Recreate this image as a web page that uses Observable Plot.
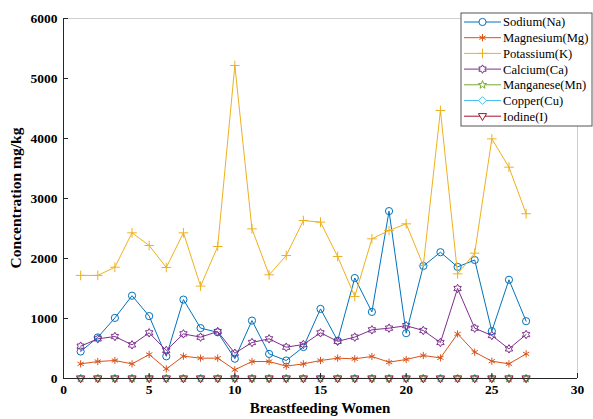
<!DOCTYPE html>
<html>
<head>
<meta charset="utf-8">
<script src="https://cdn.jsdelivr.net/npm/d3@7"></script>
<script src="https://cdn.jsdelivr.net/npm/@observablehq/plot@0.6"></script>
<style>
  html, body { margin: 0; padding: 0; background: #fff; }
  #chart { position: relative; width: 593px; height: 419px; }
  #chart svg, #chart svg text { font-family: 'Liberation Serif', 'Times New Roman', 'DejaVu Serif', serif !important; }
</style>
</head>
<body>
<div id="chart"></div>
<script>
const women = [1,2,3,4,5,6,7,8,9,10,11,12,13,14,15,16,17,18,19,20,21,22,23,24,25,26,27];
const sodium    = [450,685,1010,1380,1040,370,1315,840,770,330,965,410,300,525,1160,630,1675,1110,2790,755,1875,2105,1860,1975,790,1645,955];
const magnesium = [244,283,300,244,400,160,372,339,339,145,283,283,206,244,300,339,328,367,272,317,383,344,744,439,289,244,411];
const potassium = [1718,1718,1855,2428,2217,1850,2428,1540,2200,5217,2494,1728,2050,2633,2606,2033,1367,2328,2467,2578,1883,4467,1744,2089,3994,3522,2746];
const calcium   = [539,661,700,561,761,467,744,689,783,422,600,661,522,567,761,620,690,811,839,880,800,600,1500,839,717,494,733];
const manganese = [0.4,0.3,0.5,0.4,0.3,0.2,0.4,0.3,0.5,0.3,0.4,0.3,0.2,0.4,0.5,0.3,0.4,0.3,0.4,0.5,0.3,0.4,0.6,0.3,0.4,0.3,0.4];
const copper    = [0.6,0.5,0.7,0.5,0.6,0.4,0.6,0.5,0.6,0.4,0.5,0.6,0.4,0.5,0.6,0.5,0.7,0.5,0.6,0.5,0.6,0.5,0.8,0.6,0.5,0.4,0.6];
const iodine    = [0.2,0.3,0.2,0.2,0.3,0.1,0.2,0.3,0.2,0.1,0.2,0.2,0.1,0.2,0.3,0.2,0.2,0.3,0.2,0.2,0.3,0.2,0.4,0.2,0.2,0.1,0.2];
const seriesNames = ["Sodium(Na)","Magnesium(Mg)","Potassium(K)","Calcium(Ca)","Manganese(Mn)","Copper(Cu)","Iodine(I)"];
const seriesValues = [sodium, magnesium, potassium, calcium, manganese, copper, iodine];
const xTicks = [0,5,10,15,20,25,30];
const yTicks = [0,1000,2000,3000,4000,5000,6000];

const colors = ["#0072BD","#D95319","#EDB120","#7E2F8E","#77AC30","#4DBEEE","#A2142F"];

function starPath(points, innerRatio) {
  return {
    draw(ctx, size) {
      const R = Math.sqrt(size / Math.PI) * 1.25;
      const r = R * innerRatio;
      for (let i = 0; i < points * 2; i++) {
        const rr = i % 2 === 0 ? R : r;
        const a = i * Math.PI / points;
        const x = rr * Math.sin(a), y = -rr * Math.cos(a);
        if (i === 0) ctx.moveTo(x, y); else ctx.lineTo(x, y);
      }
      ctx.closePath();
    }
  };
}
const hexagram = starPath(6, 0.58);
const pentagram = starPath(5, 0.40);
const triDown = {
  draw(ctx, size) {
    const R = Math.sqrt(size / Math.PI) * 1.2;
    ctx.moveTo(0, R);
    ctx.lineTo(-R * 0.95, -R * 0.6);
    ctx.lineTo(R * 0.95, -R * 0.6);
    ctx.closePath();
  }
};
const diamondSq = {
  draw(ctx, size) {
    const R = Math.sqrt(size / Math.PI) * 1.2;
    ctx.moveTo(0, -R); ctx.lineTo(R, 0); ctx.lineTo(0, R); ctx.lineTo(-R, 0); ctx.closePath();
  }
};
const symbols = ["circle", "asterisk", "plus", hexagram, pentagram, diamondSq, triDown];
const radii = [3.6, 3.4, 3.2, 3.4, 3.4, 3.2, 3.6];

const rows = seriesNames.flatMap((name, s) =>
  women.map((w, i) => ({ series: name, idx: s, woman: w, value: seriesValues[s][i] })));

const marks = [
  Plot.ruleY([6000], { stroke: "#d0d0d0", strokeWidth: 1 }),
  Plot.ruleX([30], { stroke: "#d0d0d0", strokeWidth: 1 }),
];
seriesNames.forEach((name, s) => {
  const d = rows.filter(r => r.idx === s);
  marks.push(Plot.line(d, { x: "woman", y: "value", stroke: colors[s], strokeWidth: 1 }));
  marks.push(Plot.dot(d, { x: "woman", y: "value", stroke: colors[s], fill: "none", symbol: () => symbols[s], r: radii[s], strokeWidth: 1 }));
});
marks.push(
  Plot.ruleX([0], { stroke: "#262626", strokeWidth: 1 }),
  Plot.ruleY([0], { stroke: "#262626", strokeWidth: 1 }),
  Plot.axisY({ ticks: yTicks, tickSize: 0, tickPadding: 6, tickFormat: d => String(d), fontSize: 13.5, fontWeight: "bold", fill: "#000", label: null }),
  Plot.axisY({ ticks: yTicks, tickSize: -5, text: null, stroke: "#262626", label: null }),
  Plot.axisX({ ticks: xTicks, tickSize: 0, tickPadding: 6, tickFormat: d => String(d), fontSize: 13.5, fontWeight: "bold", fill: "#000", label: null }),
  Plot.axisX({ ticks: xTicks, tickSize: -5, text: null, stroke: "#262626", label: null })
);

const plot = Plot.plot({
  width: 593,
  height: 419,
  marginLeft: 63,
  marginRight: 16,
  marginTop: 18,
  marginBottom: 41,
  x: { domain: [0, 30] },
  y: { domain: [0, 6000] },
  style: { background: "#fff", overflow: "visible" },
  marks
});

const svg = d3.select(plot);
svg.append("text")
  .attr("x", 320).attr("y", 413)
  .attr("text-anchor", "middle")
  .attr("font-size", 15).attr("font-weight", "bold")
  .attr("fill", "#000")
  .text("Breastfeeding Women");
svg.append("text")
  .attr("transform", "translate(21,198) rotate(-90)")
  .attr("text-anchor", "middle")
  .attr("font-size", 15.5).attr("font-weight", "bold")
  .attr("fill", "#000")
  .text("Concentration mg/kg");

const lg = svg.append("g").attr("transform", "translate(461,13)");
lg.append("rect").attr("width", 131).attr("height", 113)
  .attr("fill", "#fff").attr("stroke", "#555").attr("stroke-width", 1);
seriesNames.forEach((name, s) => {
  const y = 9 + s * 15.7;
  lg.append("line").attr("x1", 3).attr("x2", 40).attr("y1", y).attr("y2", y)
    .attr("stroke", colors[s]).attr("stroke-width", 1);
  const t = typeof symbols[s] === "string"
    ? { circle: d3.symbolCircle, asterisk: d3.symbolAsterisk, plus: d3.symbolPlus }[symbols[s]]
    : symbols[s];
  lg.append("path").attr("transform", `translate(21.5,${y})`)
    .attr("d", d3.symbol(t, radii[s] * radii[s] * Math.PI)())
    .attr("fill", "#fff").attr("stroke", colors[s]).attr("stroke-width", 1);
  lg.append("text").attr("x", 42).attr("y", y).attr("dy", "0.35em")
    .attr("text-anchor", "start")
    .attr("font-size", 12.6).attr("font-weight", "normal").attr("fill", "#000").text(name);
});

document.getElementById("chart").appendChild(plot);
</script>
</body>
</html>
